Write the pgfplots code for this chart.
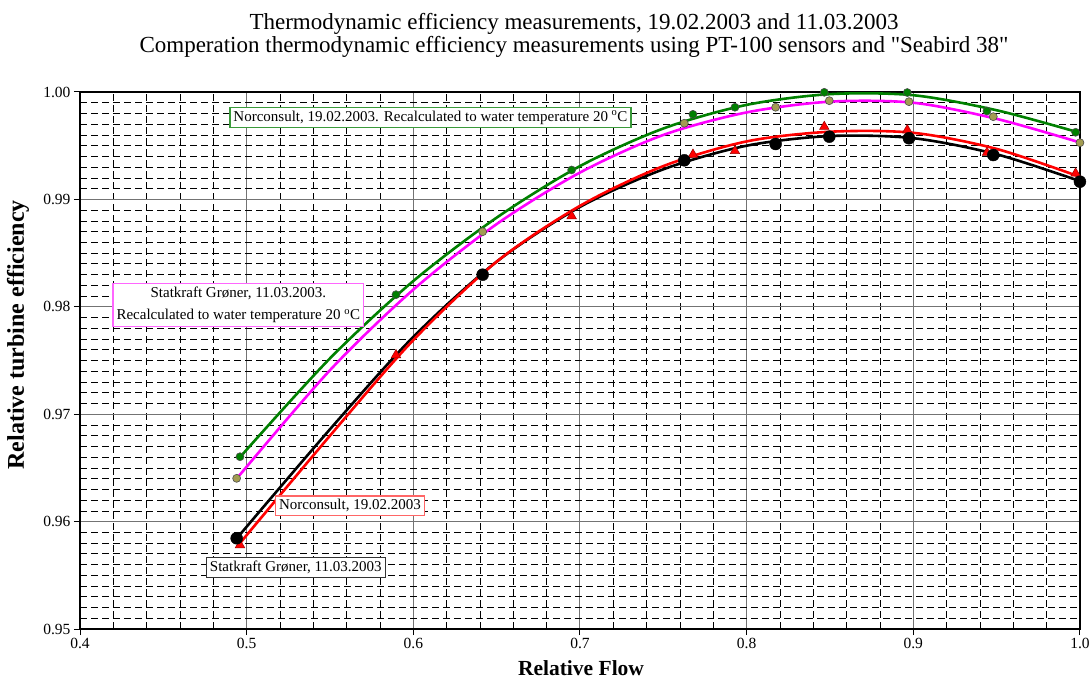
\documentclass[border=0pt]{standalone}
\usepackage{fontspec}
\setmainfont{Liberation Serif}
\usepackage{pgfplots}
\pgfplotsset{compat=1.18}
\definecolor{ncgreen}{HTML}{008000}
\definecolor{sgmag}{HTML}{FF00FF}
\definecolor{sgolive}{HTML}{A39C52}
\definecolor{boxgreen}{HTML}{3A9A3A}
\definecolor{boxmag}{HTML}{FF66FF}
\definecolor{boxred}{HTML}{FF6666}
\newcommand{\tsz}{\fontsize{15bp}{18bp}\selectfont}
\tikzset{
  note/.style={draw, fill=white, line width=1.2bp, font=\tsz, inner sep=3.5bp, align=center},
}
\begin{document}
\begin{tikzpicture}
\path[use as bounding box] (-80bp,-64bp) rectangle (1011bp,629bp);
\begin{axis}[
  scale only axis, width=1000bp, height=537bp,
  xmin=0.4, xmax=1.0, ymin=0.95, ymax=1.0,
  xtick={0.4,0.5,0.6,0.7,0.8,0.9,1.0},
  ytick={0.95,0.96,0.97,0.98,0.99,1.00},
  minor x tick num=4, minor y tick num=9,
  grid=both,
  major grid style={black!55, line width=1bp},
  minor grid style={black, dash pattern=on 7bp off 4bp, line width=0.7bp},
  axis line style={black, line width=1.3bp},
  tick align=outside, xtick pos=bottom, ytick pos=left,
  major tick length=6bp, minor tick length=0bp,
  tick style={black, line width=1bp},
  ticklabel style={font=\fontsize{15.5bp}{18bp}\selectfont},
  /pgf/number format/assume math mode=true,
  xticklabel style={/pgf/number format/.cd, fixed, fixed zerofill, precision=1},
  yticklabel style={/pgf/number format/.cd, fixed, fixed zerofill, precision=2},
  clip=false,
]
% measured points
\addplot[only marks, mark=*, mark size=4bp, mark options={fill=ncgreen, draw=black!70, line width=0.6bp}] coordinates {
  (0.4960,0.96604) (0.5896,0.98113) (0.6950,0.99274) (0.7678,0.99792) (0.7930,0.99858)
  (0.8466,0.99997) (0.8964,0.99995) (0.9442,0.99823) (0.9974,0.99625)};
\addplot[only marks, mark=*, mark size=4bp, mark options={fill=sgolive, draw=black!70, line width=0.6bp}] coordinates {
  (0.4940,0.96403) (0.6416,0.98699) (0.7626,0.99709) (0.8174,0.99858) (0.8496,0.99919)
  (0.8974,0.99910) (0.9480,0.99770) (1.0000,0.99528)};
\addplot[only marks, mark=triangle*, mark size=5.5bp, mark options={fill=red, draw=red!60!black, line width=0.5bp}] coordinates {
  (0.4960,0.95782) (0.5896,0.97551) (0.6950,0.98845) (0.7678,0.99418) (0.7930,0.99451)
  (0.8466,0.99677) (0.8964,0.99646) (0.9442,0.99435) (0.9974,0.99243)};
\addplot[only marks, mark=*, mark size=6bp, mark options={fill=black, draw=black}] coordinates {
  (0.4940,0.95845) (0.6416,0.98299) (0.7626,0.99364) (0.8174,0.99516) (0.8496,0.99584)
  (0.8974,0.99569) (0.9480,0.99413) (1.0000,0.99165)};
% trend lines
\addplot[ncgreen, line width=2.6bp, smooth] coordinates {
  (0.496,0.9660) (0.55,0.9752) (0.60,0.9824) (0.65,0.9883) (0.70,0.9931) (0.75,0.9966)
  (0.80,0.9988) (0.85,0.9998) (0.90,0.9997) (0.95,0.9983) (1.00,0.9962)};
\addplot[sgmag, line width=2.6bp, smooth] coordinates {
  (0.494,0.9640) (0.55,0.9741) (0.60,0.9816) (0.65,0.9877) (0.70,0.9925) (0.75,0.9960)
  (0.80,0.9981) (0.85,0.9991) (0.90,0.9990) (0.95,0.9975) (1.00,0.9953)};
\addplot[black, line width=2.6bp, smooth] coordinates {
  (0.4944,0.9585) (0.55,0.9686) (0.60,0.9772) (0.65,0.9842) (0.70,0.9893) (0.75,0.9928)
  (0.80,0.9950) (0.85,0.9959) (0.90,0.9957) (0.95,0.9942) (1.00,0.9917)};
\addplot[red, line width=2.6bp, smooth] coordinates {
  (0.4955,0.9579) (0.55,0.9680) (0.60,0.9769) (0.65,0.9842) (0.70,0.9894) (0.75,0.9931)
  (0.80,0.9954) (0.85,0.9963) (0.90,0.9962) (0.95,0.9947) (1.00,0.9921)};
% labels
\node[note, draw=boxgreen] at (axis cs:0.6103,0.99763) {Norconsult, 19.02.2003. Recalculated to water temperature 20 \textsuperscript{o}C};
\node[note, draw=boxmag] at (axis cs:0.4950,0.98015) {Statkraft Grøner, 11.03.2003.\\[4bp]Recalculated to water temperature 20 \textsuperscript{o}C};
\node[note, draw=boxred] at (axis cs:0.5620,0.96147) {Norconsult, 19.02.2003};
\node[note, draw=black!80] at (axis cs:0.5295,0.95573) {Statkraft Grøner, 11.03.2003};
\end{axis}
\node[anchor=base, font=\fontsize{23bp}{27bp}\selectfont] at (494bp,599bp) {Thermodynamic efficiency measurements, 19.02.2003 and 11.03.2003};
\node[anchor=base, font=\fontsize{23bp}{27bp}\selectfont] at (494bp,576bp) {Comperation thermodynamic efficiency measurements using PT-100 sensors and {\addfontfeatures{Ligatures=TeXOff}"Seabird 38"}};
\node[font=\fontsize{21.5bp}{25bp}\selectfont\bfseries] at (501bp,-39bp) {Relative Flow};
\node[font=\fontsize{24bp}{28bp}\selectfont\bfseries, rotate=90] at (-62bp,294bp) {Relative turbine efficiency};
\end{tikzpicture}
\end{document}
